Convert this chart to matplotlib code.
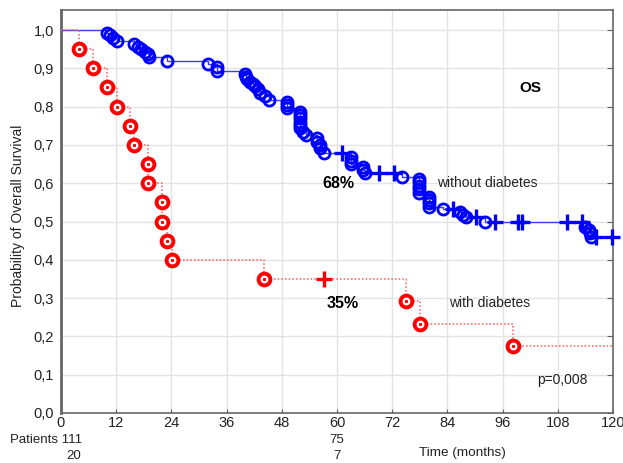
import numpy as np
import matplotlib
matplotlib.use("Agg")
from matplotlib import pyplot as plt

plt.rcParams['font.family'] = ['Liberation Sans', 'DejaVu Sans']

# without diabetes: event times (months) and survival after each event
blue_t = [9.9, 10.7, 11.4, 12.1, 15.9, 16.8, 17.5, 18.3, 19.0, 19.2,
          23.1, 32.0, 34.0, 34.0, 40.0, 40.2, 40.4, 41.1, 41.7, 42.2,
          42.9, 43.3, 44.3, 45.2, 49.1, 49.1, 49.1, 52.0, 52.0, 52.0,
          52.0, 52.0, 52.0, 52.7, 53.3, 55.6, 55.6, 56.3, 56.3, 57.2,
          63.0, 63.0, 63.0, 65.7, 65.7, 66.1, 74.1,
          77.9, 77.9, 77.9, 77.9, 77.9, 80.1, 80.1, 80.1, 80.1,
          83.0, 86.7, 87.5, 88.0, 92.2, 113.9, 114.8, 115.0, 115.2]
blue_s = [0.993, 0.987, 0.980, 0.971, 0.963, 0.956, 0.950, 0.943, 0.937, 0.929,
          0.919, 0.911, 0.903, 0.894, 0.885, 0.878, 0.871, 0.865, 0.860, 0.854,
          0.845, 0.836, 0.828, 0.817, 0.813, 0.804, 0.796, 0.787, 0.778, 0.769,
          0.761, 0.752, 0.743, 0.734, 0.726, 0.717, 0.708, 0.700, 0.691, 0.678,
          0.668, 0.659, 0.650, 0.643, 0.634, 0.626, 0.617,
          0.611, 0.602, 0.593, 0.584, 0.574, 0.565, 0.556, 0.547, 0.538,
          0.532, 0.524, 0.517, 0.511, 0.500, 0.486, 0.478, 0.469, 0.459]
blue_cens = [61.0, 69.2, 72.3, 85.2, 90.2, 94.3, 99.3, 100.3, 110.1, 113.2, 116.3, 119.8]

# with diabetes
red_t = [3.9, 7.0, 10.1, 12.2, 15.0, 15.9, 19.0, 19.0, 22.0, 22.0,
         23.1, 24.1, 44.1, 75.0, 78.0, 98.2]
red_s = [0.95, 0.90, 0.85, 0.80, 0.75, 0.70, 0.65, 0.60, 0.55, 0.50,
         0.45, 0.40, 0.35, 0.2917, 0.2333, 0.175]
red_cens = [57.2]

xticks = [0, 12, 24, 36, 48, 60, 72, 84, 96, 108, 120]
yticks = [0.0, 0.1, 0.2, 0.3, 0.4, 0.5, 0.6, 0.7, 0.8, 0.9, 1.0]


def level_at(times, surv, ct):
    # survival level in force at a censoring time
    i = np.searchsorted(times, ct, side='right')
    return 1.0 if i == 0 else surv[i - 1]


fig = plt.figure(figsize=(6.23, 4.63), dpi=100)
ax = fig.add_axes([61 / 623, 1 - 413 / 463, 552 / 623, 403 / 463])

# step curves
ax.step(np.r_[0, blue_t, 120], np.r_[1.0, blue_s, blue_s[-1]], where='post',
        color='#3c3cff', lw=1.0, zorder=3)
ax.step(np.r_[0, red_t, 120], np.r_[1.0, red_s, red_s[-1]], where='post',
        color='#ff5a5a', lw=1.1, linestyle=(0, (1, 1.4)), zorder=3)

# events as open circles
ax.plot(blue_t, blue_s, 'o', ms=8, mfc='none', mec='#0000ff', mew=2.0, zorder=4)
ax.plot(red_t, red_s, 'o', ms=8.5, mfc='white', mec='#ff0000', mew=2.8, zorder=4)
ax.plot(red_t, red_s, 's', ms=1.2, color='#ff0000', zorder=5)

# censored cases
ax.plot(blue_cens, [level_at(blue_t, blue_s, c) for c in blue_cens], '+',
        ms=11, mew=2.4, color='#0000ff', zorder=5, clip_on=False)
ax.plot(red_cens, [level_at(red_t, red_s, c) for c in red_cens], '+',
        ms=11, mew=2.4, color='#ff0000', zorder=5)

ax.set_xlim(0, 120)
ax.set_ylim(0, 403 / 383)
ax.set_xticks(xticks)
ax.set_yticks(yticks)
ax.set_yticklabels([f"{v:.1f}".replace('.', ',') for v in yticks])
ax.grid(True, color='#e3e3e3', lw=1.0, zorder=0)
ax.set_axisbelow(True)
ax.tick_params(axis='x', direction='in', length=3, labelsize=10.5, colors='#606060',
               labelcolor='#222222', pad=2)
ax.tick_params(axis='y', direction='in', left=False, right=True, length=4,
               labelsize=10.5, colors='#606060', labelcolor='#222222', pad=5)
for side in ['left', 'right', 'top', 'bottom']:
    ax.spines[side].set_color('#666666')
    ax.spines[side].set_linewidth(1.2)
ax.spines['left'].set_linewidth(2.0)

ax.set_ylabel("Probability of Overall Survival", fontsize=10, color='#222222')
ax.yaxis.set_label_coords(-36 / 552, 0.49)

ax.text(102.0, 0.849, "OS", fontsize=11, fontweight='bold', ha='center', va='center')
ax.text(60.4, 0.600, "68%", fontsize=11.5, fontweight='bold', ha='center', va='center')
ax.text(81.7, 0.600, "without diabetes", fontsize=10, ha='left', va='center', color='#222222')
ax.text(61.2, 0.286, "35%", fontsize=11.5, fontweight='bold', ha='center', va='center')
ax.text(84.3, 0.286, "with diabetes", fontsize=10, ha='left', va='center', color='#222222')
ax.text(103.5, 0.086, "p=0,008", fontsize=10, ha='left', va='center', color='#222222')

# numbers at risk under the axis
fig.text(82 / 623, 1 - 440 / 463, "Patients 111", fontsize=9.5, ha='right', va='center', color='#222222')
fig.text(74 / 623, 1 - 456 / 463, "20", fontsize=9.5, ha='center', va='center', color='#222222')
fig.text(337 / 623, 1 - 440 / 463, "75", fontsize=9.5, ha='center', va='center', color='#222222')
fig.text(337 / 623, 1 - 456 / 463, "7", fontsize=9.5, ha='center', va='center', color='#222222')
fig.text(462 / 623, 1 - 453 / 463, "Time (months)", fontsize=9.7, ha='center', va='center', color='#222222')

fig.savefig("out.png", dpi=100)
